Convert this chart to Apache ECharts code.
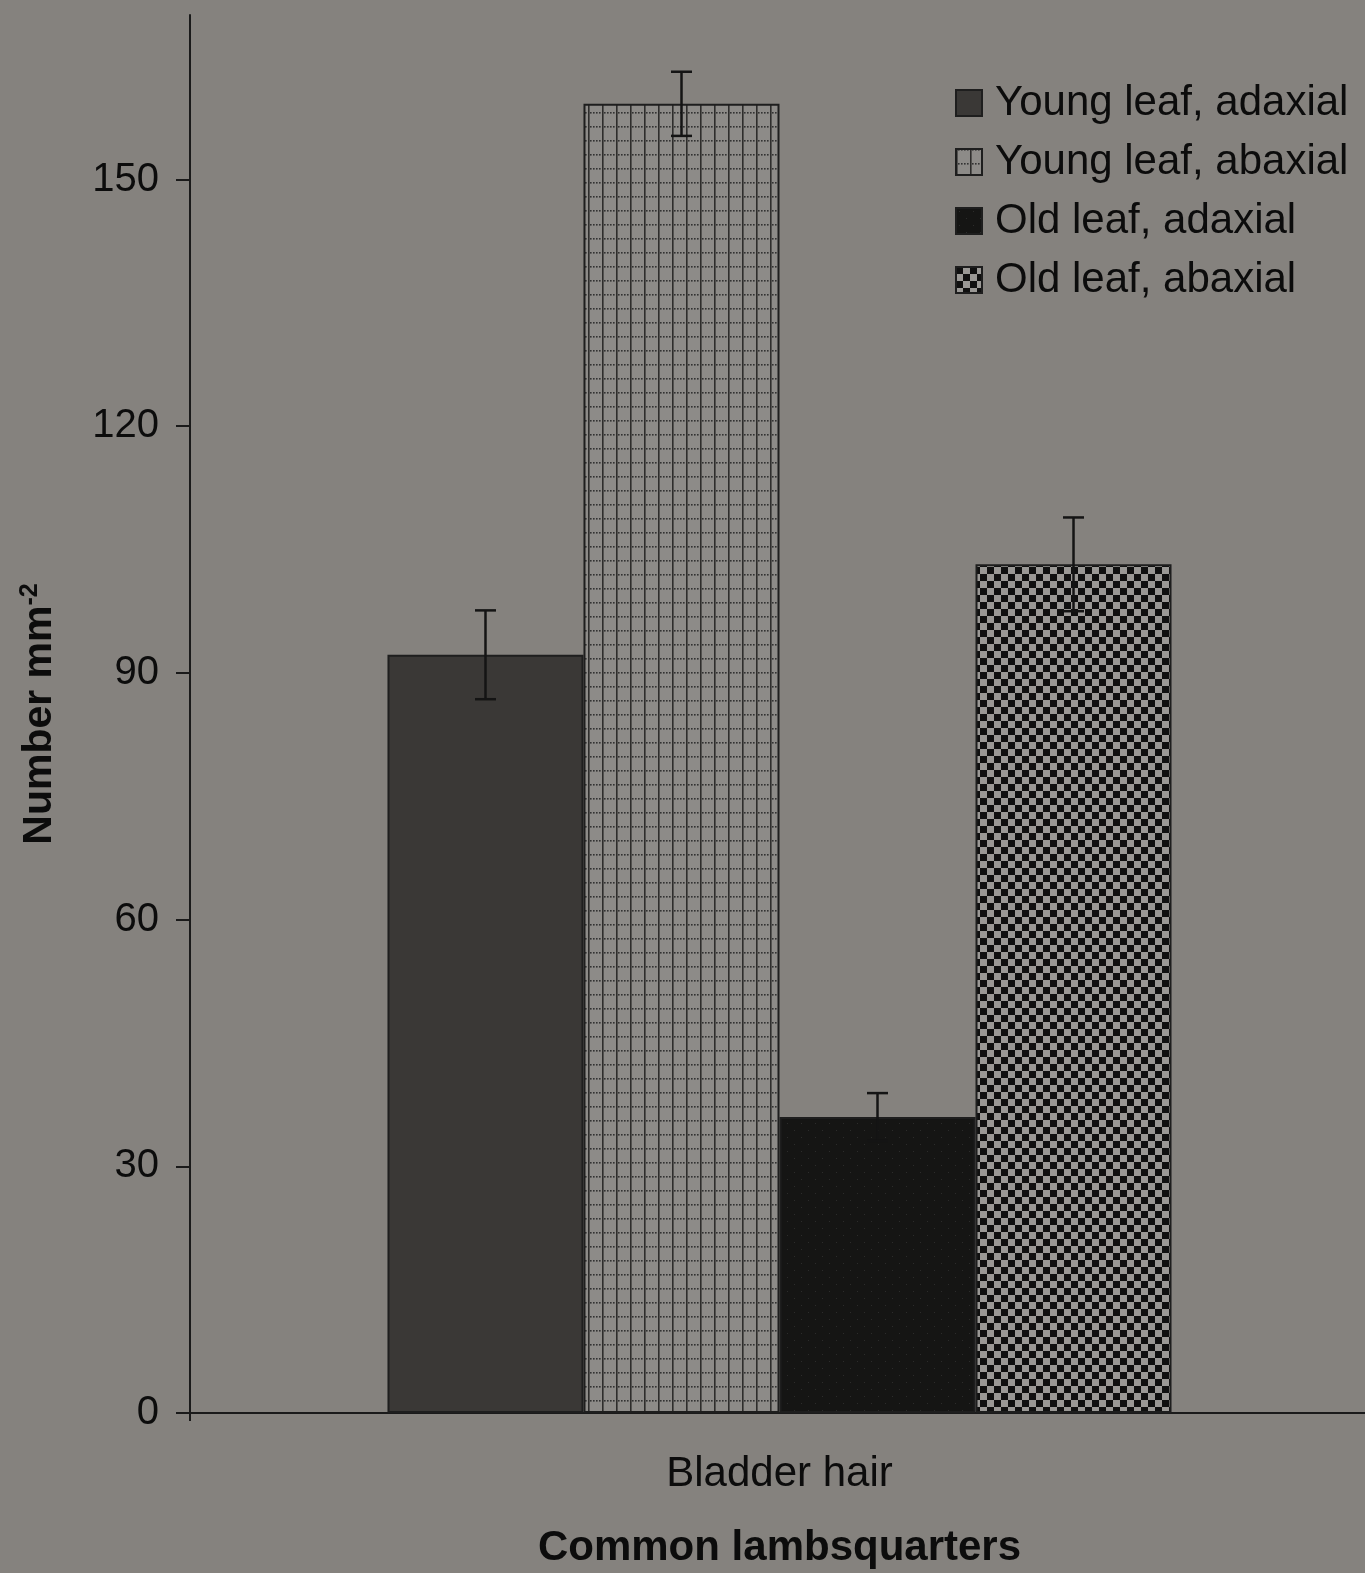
<!DOCTYPE html>
<html>
<head>
<meta charset="utf-8">
<script src="https://cdn.jsdelivr.net/npm/echarts@6/dist/echarts.min.js"></script>
<style>
html,body{margin:0;padding:0;background:#85827e;}
#chart{width:1365px;height:1573px;}
</style>
</head>
<body>
<div id="chart"></div>
<script>
// ---- data ----
const categories = ['Bladder hair'];
const seriesNames = ['Young leaf, adaxial', 'Young leaf, abaxial', 'Old leaf, adaxial', 'Old leaf, abaxial'];
const youngAdaxial = [92.2];
const youngAbaxial = [159.2];
const oldAdaxial = [36.0];
const oldAbaxial = [103.2];
const youngAdaxialErr = [5.4];
const youngAbaxialErr = [3.9];
const oldAdaxialErr = [2.9];
const oldAbaxialErr = [5.7];
const yTicks = [0, 30, 60, 90, 120, 150];
const yMax = 170;

// ---- patterns ----
function makeCanvas(w, h, draw) {
  const c = document.createElement('canvas');
  c.width = w; c.height = h;
  draw(c.getContext('2d'), w, h);
  return c;
}
const gridPat = makeCanvas(14, 14, (g, w, h) => {
  g.fillStyle = '#8d8b88'; g.fillRect(0, 0, w, h);
  g.fillStyle = '#2e2d2c'; g.fillRect(0, 0, 1.6, h);
  g.fillStyle = '#333';
  for (let x = 2; x < w; x += 3) g.fillRect(x, 0, 1.6, 1.6);
});
const darkPat = makeCanvas(14, 14, (g, w, h) => {
  g.fillStyle = '#151514'; g.fillRect(0, 0, w, h);
  g.fillStyle = '#2c2c2b'; g.fillRect(3, 3, 1, 1); g.fillRect(10, 10, 1, 1);
});
const checkPat = makeCanvas(14, 14, (g, w, h) => {
  g.fillStyle = '#9a9895'; g.fillRect(0, 0, w, h);
  g.fillStyle = '#101010'; g.fillRect(0, 0, 7, 7); g.fillRect(7, 7, 7, 7);
});
const fills = [
  '#3a3836',
  { image: gridPat, repeat: 'repeat' },
  { image: darkPat, repeat: 'repeat' },
  { image: checkPat, repeat: 'repeat' }
];
const values = [youngAdaxial, youngAbaxial, oldAdaxial, oldAbaxial];
const errs = [youngAdaxialErr, youngAbaxialErr, oldAdaxialErr, oldAbaxialErr];
const BAR_FRAC = 1 - 0.335;

const barSeries = seriesNames.map((n, i) => ({
  name: n,
  type: 'bar',
  data: values[i],
  barGap: '0%',
  barCategoryGap: '33.5%',
  itemStyle: { color: fills[i], borderColor: '#1e1e1e', borderWidth: 2 },
  z: 2
}));

const errData = [];
values.forEach((arr, i) => arr.forEach((v, c) => errData.push([c, v, errs[i][c], i])));

const errSeries = {
  type: 'custom',
  name: 'err',
  data: errData,
  z: 5,
  renderItem: function (params, api) {
    const cat = api.value(0), v = api.value(1), e = api.value(2), idx = api.value(3);
    const band = api.size([1, 0])[0];
    const bw = band * BAR_FRAC / 4;
    const x = api.coord([cat, v])[0] + (idx - 1.5) * bw;
    const yt = api.coord([cat, v + e])[1];
    const yb = api.coord([cat, v - e])[1];
    const hw = 10.5;
    const st = { stroke: '#141414', lineWidth: 2.5 };
    return {
      type: 'group',
      children: [
        { type: 'line', shape: { x1: x, y1: yt, x2: x, y2: yb }, style: st },
        { type: 'line', shape: { x1: x - hw, y1: yt, x2: x + hw, y2: yt }, style: st },
        { type: 'line', shape: { x1: x - hw, y1: yb, x2: x + hw, y2: yb }, style: st }
      ]
    };
  }
};

const chart = echarts.init(document.getElementById('chart'), null, { renderer: 'canvas' });
const FONT = '"Liberation Sans", Arial, sans-serif';
const TXT = '#0c0c0c';
chart.setOption({
  backgroundColor: '#85827e',
  animation: false,
  textStyle: { fontFamily: FONT },
  grid: { left: 190, right: -4, top: 15, bottom: 160, containLabel: false, outerBoundsMode: 'none' },
  legend: {
    data: seriesNames,
    orient: 'vertical',
    left: 950,
    top: 77,
    itemWidth: 26,
    itemHeight: 26,
    itemGap: 17,
    icon: 'rect',
    textStyle: { fontSize: 42, lineHeight: 42, color: TXT, fontFamily: FONT, padding: [0, 0, 0, 8] }
  },
  xAxis: {
    type: 'category',
    data: categories,
    name: 'Common lambsquarters',
    nameLocation: 'middle',
    nameGap: 114,
    nameTextStyle: { fontSize: 42, fontWeight: 'bold', color: TXT, fontFamily: FONT },
    axisLine: { lineStyle: { color: '#1a1a1a', width: 2 } },
    axisTick: { show: true, length: 8, lineStyle: { color: '#1a1a1a', width: 2 } },
    axisLabel: { fontSize: 42, color: TXT, margin: 40, fontFamily: FONT }
  },
  yAxis: {
    type: 'value',
    min: 0,
    max: yMax,
    interval: 30,
    name: '{a|Number mm}{b|-2}',
    nameLocation: 'middle',
    nameRotate: 90,
    nameGap: 128,
    nameTextStyle: {
      rich: {
        a: { fontSize: 41, fontWeight: 'bold', color: TXT, fontFamily: FONT, lineHeight: 44 },
        b: { fontSize: 25, fontWeight: 'bold', color: TXT, fontFamily: FONT, verticalAlign: 'top', lineHeight: 24 }
      }
    },
    splitLine: { show: false },
    axisLine: { show: true, lineStyle: { color: '#1a1a1a', width: 2 } },
    axisTick: { show: true, length: 14, customValues: yTicks, lineStyle: { color: '#1a1a1a', width: 2 } },
    axisLabel: { fontSize: 40, color: TXT, margin: 31, customValues: yTicks, fontFamily: FONT }
  },
  series: barSeries.concat([errSeries])
});
</script>
</body>
</html>
